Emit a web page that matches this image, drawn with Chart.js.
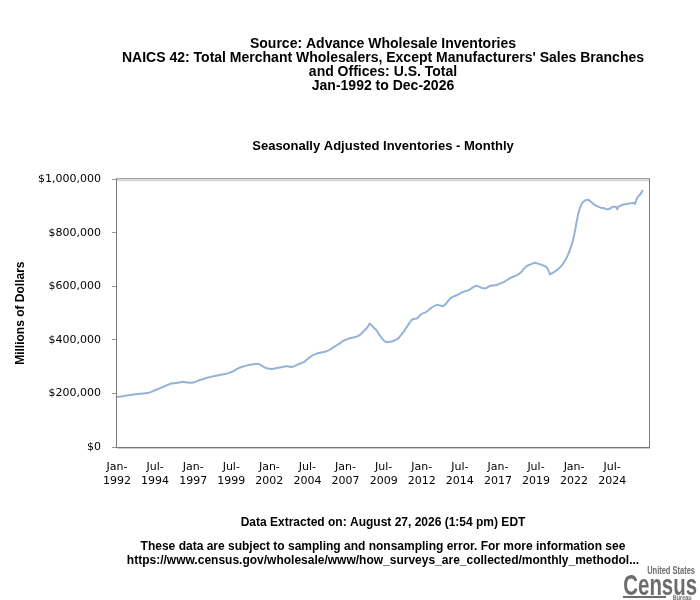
<!DOCTYPE html>
<html>
<head>
<meta charset="utf-8">
<script src="https://cdn.jsdelivr.net/npm/chart.js@4"></script>
<style>
  html, body { margin: 0; padding: 0; background: #fff; }
  #wrap { width: 700px; height: 600px; }
</style>
</head>
<body>
<div id="wrap"><canvas id="invChart" width="700" height="600"></canvas></div>
<script>
// Monthly inventories, millions of dollars
const y1992 = [187000, 188000, 188000, 189000, 190000, 190000, 191000, 192000, 192000, 193000, 194000, 194000];
const y1993 = [195000, 196000, 197000, 197000, 198000, 198000, 199000, 199000, 200000, 200000, 201000, 201000];
const y1994 = [202000, 203000, 204000, 206000, 208000, 210000, 212000, 214000, 216000, 218000, 220000, 222000];
const y1995 = [224000, 226000, 228000, 230000, 232000, 234000, 236000, 237000, 238000, 238000, 239000, 239000];
const y1996 = [240000, 241000, 242000, 243000, 244000, 243000, 242000, 241000, 241000, 240000, 240000, 240000];
const y1997 = [241000, 242000, 244000, 246000, 248000, 250000, 251000, 252000, 254000, 256000, 257000, 259000];
const y1998 = [260000, 261000, 262000, 263000, 264000, 265000, 266000, 267000, 268000, 269000, 270000, 271000];
const y1999 = [272000, 273000, 274000, 275000, 276000, 278000, 280000, 282000, 284000, 287000, 290000, 293000];
const y2000 = [295000, 297000, 299000, 300000, 302000, 303000, 304000, 305000, 306000, 307000, 308000, 309000];
const y2001 = [309000, 310000, 310000, 310000, 309000, 307000, 304000, 301000, 298000, 296000, 294000, 293000];
const y2002 = [292000, 291000, 291000, 292000, 293000, 294000, 295000, 296000, 297000, 298000, 299000, 300000];
const y2003 = [301000, 302000, 302000, 301000, 300000, 299000, 300000, 301000, 303000, 305000, 307000, 309000];
const y2004 = [311000, 313000, 315000, 317000, 320000, 324000, 328000, 332000, 336000, 339000, 342000, 345000];
const y2005 = [346000, 348000, 350000, 351000, 352000, 353000, 354000, 355000, 356000, 358000, 360000, 362000];
const y2006 = [365000, 368000, 371000, 374000, 377000, 380000, 383000, 386000, 389000, 393000, 396000, 399000];
const y2007 = [400000, 402000, 404000, 406000, 407000, 408000, 409000, 410000, 411000, 413000, 415000, 418000];
const y2008 = [421000, 426000, 431000, 436000, 441000, 446000, 453000, 461000, 457000, 452000, 447000, 442000];
const y2009 = [438000, 432000, 424000, 417000, 410000, 404000, 399000, 395000, 392000, 391000, 392000, 393000];
const y2010 = [394000, 395000, 397000, 399000, 401000, 404000, 408000, 414000, 420000, 426000, 432000, 440000];
const y2011 = [447000, 454000, 461000, 468000, 474000, 477000, 478000, 479000, 480000, 484000, 489000, 494000];
const y2012 = [497000, 499000, 501000, 503000, 506000, 510000, 514000, 518000, 521000, 524000, 527000, 529000];
const y2013 = [530000, 530000, 529000, 528000, 527000, 527000, 530000, 535000, 541000, 547000, 552000, 557000];
const y2014 = [560000, 562000, 564000, 566000, 568000, 570000, 573000, 576000, 578000, 580000, 582000, 583000];
const y2015 = [584000, 586000, 589000, 592000, 595000, 598000, 601000, 602000, 601000, 599000, 597000, 595000];
const y2016 = [594000, 593000, 592000, 594000, 597000, 600000, 602000, 602000, 603000, 604000, 604000, 605000];
const y2017 = [607000, 609000, 611000, 613000, 615000, 617000, 620000, 623000, 626000, 629000, 632000, 634000];
const y2018 = [636000, 638000, 640000, 642000, 645000, 648000, 652000, 657000, 663000, 668000, 673000, 677000];
const y2019 = [679000, 681000, 682000, 685000, 687000, 688000, 687000, 686000, 684000, 683000, 681000, 679000];
const y2020 = [678000, 676000, 673000, 667000, 657000, 645000, 648000, 650000, 653000, 656000, 659000, 663000];
const y2021 = [667000, 671000, 677000, 683000, 690000, 698000, 706000, 716000, 727000, 740000, 754000, 770000];
const y2022 = [791000, 815000, 842000, 866000, 884000, 898000, 908000, 915000, 919000, 922000, 923000, 924000];
const y2023 = [921000, 917000, 913000, 909000, 905000, 902000, 900000, 898000, 896000, 894000, 893000, 893000];
const y2024 = [891000, 889000, 888000, 888000, 890000, 893000, 896000, 897000, 897000, 897000, 889000, 898000];
const y2025 = [900000, 902000, 905000, 906000, 907000, 907000, 908000, 909000, 910000, 911000, 911000, 912000];
const y2026 = [909000, 922000, 933000, 939000, 943000, 950000, 960000];

const inventories = [].concat(y1992, y1993, y1994, y1995, y1996, y1997, y1998, y1999, y2000,
    y2001, y2002, y2003, y2004, y2005, y2006, y2007, y2008, y2009, y2010, y2011, y2012,
    y2013, y2014, y2015, y2016, y2017, y2018, y2019, y2020, y2021, y2022, y2023, y2024,
    y2025, y2026);

const monthNames = ['Jan', 'Feb', 'Mar', 'Apr', 'May', 'Jun', 'Jul', 'Aug', 'Sep', 'Oct', 'Nov', 'Dec'];
const firstYear = 1992;
const lastYear = 2026;
const shownTicks = ['Jan-1992', 'Jul-1994', 'Jan-1997', 'Jul-1999', 'Jan-2002', 'Jul-2004', 'Jan-2007',
    'Jul-2009', 'Jan-2012', 'Jul-2014', 'Jan-2017', 'Jul-2019', 'Jan-2022', 'Jul-2024'];
const yTicks = [0, 200000, 400000, 600000, 800000, 1000000];

const titleLines = [
    'Source: Advance Wholesale Inventories',
    "NAICS 42: Total Merchant Wholesalers, Except Manufacturers' Sales Branches",
    'and Offices: U.S. Total',
    'Jan-1992 to Dec-2026'
];
const footerLines = [
    'Data Extracted on: August 27, 2026 (1:54 pm) EDT',
    'These data are subject to sampling and nonsampling error. For more information see',
    'https://www.census.gov/wholesale/www/how_surveys_are_collected/monthly_methodol...'
];

const months = [];
for (let y = firstYear; y <= lastYear; y++) {
    monthNames.forEach(m => months.push(m + '-' + y));
}

// plot frame, y axis title, footer notes and the Census mark
const extras = {
    id: 'extras',
    afterDraw(chart) {
        const ctx = chart.ctx;
        const a = chart.chartArea;
        const cx = (a.left + a.right) / 2;

        // frame
        ctx.save();
        ctx.lineWidth = 1;
        ctx.strokeStyle = '#cccccc';
        ctx.beginPath();
        ctx.moveTo(a.left, a.top + 1.5); ctx.lineTo(a.right, a.top + 1.5);
        ctx.moveTo(a.left, a.bottom + 1.5); ctx.lineTo(a.right + 1, a.bottom + 1.5);
        ctx.stroke();
        ctx.strokeStyle = '#7a7a7a';
        ctx.strokeRect(a.left - 0.5, a.top - 0.5, a.right - a.left + 1, a.bottom - a.top + 1);
        ctx.restore();

        // y title
        ctx.save();
        ctx.fillStyle = '#000';
        ctx.font = 'bold 12px "Liberation Sans", Arial, sans-serif';
        ctx.textAlign = 'center';
        ctx.textBaseline = 'middle';
        ctx.translate(21, (a.top + a.bottom) / 2);
        ctx.rotate(-Math.PI / 2);
        ctx.fillText('Millions of Dollars', 0, 0);
        ctx.restore();

        // footer
        ctx.save();
        ctx.fillStyle = '#000';
        ctx.textAlign = 'center';
        ctx.textBaseline = 'middle';
        ctx.font = 'bold 12px "Liberation Sans", Arial, sans-serif';
        ctx.fillText(footerLines[0], cx, 523);
        ctx.fillText(footerLines[1], cx, 547);
        ctx.fillText(footerLines[2], cx, 561);
        ctx.restore();

        // Census logo (narrowed by a horizontal scale)
        ctx.save();
        ctx.fillStyle = '#6d6d6d';
        ctx.textAlign = 'right';
        ctx.textBaseline = 'alphabetic';
        ctx.translate(697, 0);
        ctx.scale(0.68, 1);
        ctx.font = 'bold 11px "Liberation Sans", Arial, sans-serif';
        ctx.fillText('United States', -3, 574);
        ctx.font = 'bold 30px "Liberation Sans", Arial, sans-serif';
        ctx.fillText('Census', 0, 595);
        ctx.font = 'bold 8px "Liberation Sans", Arial, sans-serif';
        ctx.fillText('Bureau', -8, 600);
        ctx.restore();
        ctx.save();
        ctx.fillStyle = '#6d6d6d';
        ctx.fillRect(623, 596, 43, 2);
        ctx.restore();
    }
};

new Chart(document.getElementById('invChart').getContext('2d'), {
    type: 'line',
    data: {
        labels: months,
        datasets: [{
            label: 'Seasonally Adjusted Inventories',
            data: inventories,
            borderColor: '#95b3d7',
            borderWidth: 2,
            pointRadius: 0,
            tension: 0,
            fill: false
        }]
    },
    plugins: [extras],
    options: {
        responsive: false,
        animation: false,
        layout: { padding: { left: 0, right: 51, top: 0, bottom: 93 } },
        plugins: {
            legend: { display: false },
            tooltip: { enabled: false },
            title: {
                display: true,
                fullSize: false,
                text: titleLines,
                color: '#000',
                font: { family: '"Liberation Sans", Arial, sans-serif', size: 14, weight: 'bold', lineHeight: 1.0 },
                padding: { top: 37, bottom: 0 }
            },
            subtitle: {
                display: true,
                fullSize: false,
                text: 'Seasonally Adjusted Inventories - Monthly',
                color: '#000',
                font: { family: '"Liberation Sans", Arial, sans-serif', size: 13, weight: 'bold', lineHeight: 1.1 },
                padding: { top: 46, bottom: 26 }
            }
        },
        scales: {
            x: {
                grid: { display: false },
                border: { display: false },
                afterFit: s => { s.height = 60; },
                ticks: {
                    autoSkip: false,
                    maxRotation: 0,
                    padding: 5,
                    color: '#000',
                    font: { family: '"DejaVu Sans", Verdana, sans-serif', size: 11, lineHeight: 1.3 },
                    callback: function(value) {
                        const lab = this.getLabelForValue(value);
                        if (!shownTicks.includes(lab)) return null;
                        const parts = lab.split('-');
                        return [parts[0] + '-', parts[1]];
                    }
                }
            },
            y: {
                min: 0,
                max: 1000000,
                afterFit: s => { s.width = 117; },
                afterBuildTicks: s => { s.ticks = yTicks.map(v => ({ value: v })); },
                grid: { drawOnChartArea: false, drawTicks: true, tickLength: 5, color: '#999' },
                border: { display: false },
                ticks: {
                    padding: 11,
                    color: '#000',
                    font: { family: '"DejaVu Sans", Verdana, sans-serif', size: 11 },
                    callback: v => '$' + v.toLocaleString('en-US')
                }
            }
        }
    }
});
</script>
</body>
</html>
